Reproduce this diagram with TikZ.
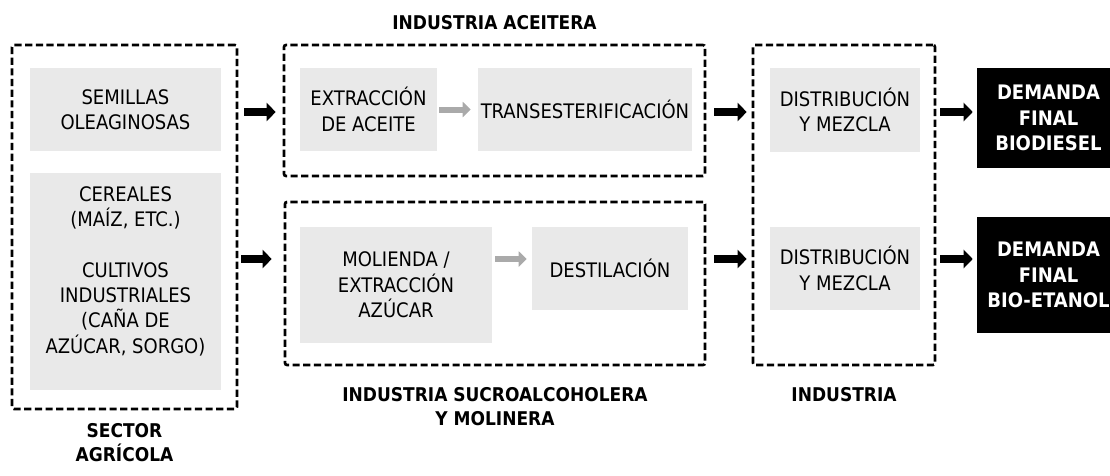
\documentclass[tikz,border=0pt]{standalone}
\usepackage{fontspec}
\setmainfont{DejaVu Sans Condensed}
\usetikzlibrary{arrows.meta,positioning}
\definecolor{CgBox}{RGB}{233,233,233}
\definecolor{CgArr}{RGB}{170,170,170}
\newcommand\fs{\fontsize{15}{19}\selectfont}
\newcommand\fst{\fontsize{14.2}{18}\selectfont}
\tikzset{
dbox/.style 2 args={draw, line width=2pt, dash pattern=on 5.4pt off 2.6pt, rounded corners=1.5pt, minimum width=#1*0.75pt, minimum height=#2*0.75pt, inner sep=0pt},
gbox/.style 2 args={fill=CgBox, minimum width=#1*0.75pt, minimum height=#2*0.75pt, inner sep=0pt, align=center, font=\fs},
kbox/.style 2 args={fill=black, text=white, minimum width=#1*0.75pt, minimum height=#2*0.75pt, inner sep=0pt, align=center, font=\fs\bfseries},
ttl/.style={font=\fst\bfseries, align=center, inner sep=0pt},
bigarr/.style={line width=6pt, -{Triangle[length=6.75pt,width=13.5pt]}},
gryarr/.style={draw=CgArr, line width=4.5pt, -{Triangle[length=6pt,width=11.25pt]}},
}

\begin{document}
\begin{tikzpicture}[x=0.75pt, y=-0.75pt]
\useasboundingbox (0,0) rectangle (1110,475);
\clip (0,0) rectangle (1110,475);

%% rows of the arrows
\coordinate (rowA) at (0,112);
\coordinate (rowB) at (0,259);

%% sector agricola
\node[dbox={225}{364}] (sector) at (124.5,227) {};
\node[gbox={191}{83}] (semillas) at (125.5,109.5) {SEMILLAS\\OLEAGINOSAS};
\node[gbox={191}{217}] (cereales) at (125.5,281.5) {};
\node[align=center, font=\fs, inner sep=0pt] (cerealesTxt) at (125.5,271)
  {CEREALES\\(MAÍZ, ETC.)\\[19pt]CULTIVOS\\INDUSTRIALES\\(CAÑA DE\\AZÚCAR, SORGO)};
\node[ttl, below=10pt of sector] (tSector) {SECTOR\\AGRÍCOLA};

%% industria aceitera
\node[dbox={421}{131}] (aceitera) at (494.5,110.5) {};
\node[gbox={137}{83}] (extraccion) at (368.5,109.5) {EXTRACCIÓN\\DE ACEITE};
\node[gbox={214}{83}] (transest) at (585,109.5) {TRANSESTERIFICACIÓN};
\node[ttl, above=10.5pt of aceitera] (tAceitera) {INDUSTRIA ACEITERA};

%% industria sucroalcoholera
\node[dbox={420}{163}] (sucro) at (495,283.5) {};
\node[gbox={192}{116}] (molienda) at (396,285) {MOLIENDA /\\EXTRACCIÓN\\AZÚCAR};
\node[gbox={156}{83}] (destil) at (610,268.5) {DESTILACIÓN};
\node[ttl, below=16pt of sucro] (tSucro) {INDUSTRIA SUCROALCOHOLERA\\Y MOLINERA};

%% industria
\node[dbox={182}{320}] (industria) at (844,205) {};
\node[gbox={150}{84}] (distribA) at (845,110) {DISTRIBUCIÓN\\Y MEZCLA};
\node[gbox={150}{83}] (distribB) at (845,268.5) {DISTRIBUCIÓN\\Y MEZCLA};
\node[ttl, below=16pt of industria] (tIndustria) {INDUSTRIA};

%% demanda final
\node[kbox={143}{100}] (demBio) at (1048.5,118) {DEMANDA\\FINAL\\BIODIESEL};
\node[kbox={143}{116}] (demEta) at (1048.5,275) {DEMANDA\\FINAL\\BIO-ETANOL};

%% arrows
\draw[bigarr, shorten <=4.5pt, shorten >=5.25pt] (sector.east |- rowA) -- (aceitera.west |- rowA);
\draw[bigarr, shorten <=2.25pt, shorten >=9pt] (sector.east |- rowB) -- (sucro.west |- rowB);
\draw[bigarr, shorten <=6pt, shorten >=3.75pt] (aceitera.east |- rowA) -- (industria.west |- rowA);
\draw[bigarr, shorten <=6pt, shorten >=3.75pt] (sucro.east |- rowB) -- (industria.west |- rowB);
\draw[bigarr, shorten <=3pt, shorten >=3pt] (industria.east |- rowA) -- (demBio.west |- rowA);
\draw[bigarr, shorten <=3pt, shorten >=3pt] (industria.east |- rowB) -- (demEta.west |- rowB);
\draw[gryarr, shorten <=1.5pt, shorten >=5.25pt] (extraccion) -- (transest);
\draw[gryarr, shorten <=2.25pt, shorten >=3.75pt] (molienda.east |- rowB) -- (destil.west |- rowB);
\end{tikzpicture}
\end{document}
